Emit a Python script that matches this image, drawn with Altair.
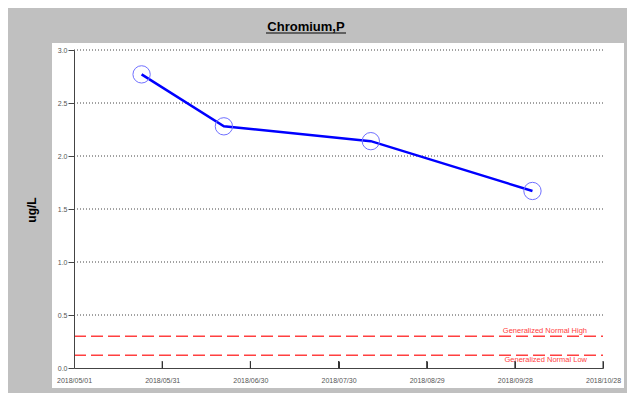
import altair as alt
import pandas as pd

# ---- data ----
dates = ["2018-05-24", "2018-06-21", "2018-08-10", "2018-10-04"]
values = [2.77, 2.28, 2.14, 1.67]

x_ticks = ["2018-05-01", "2018-05-31", "2018-06-30", "2018-07-30",
           "2018-08-29", "2018-09-28", "2018-10-28"]
y_ticks = [0.0, 0.5, 1.0, 1.5, 2.0, 2.5, 3.0]
grid_values = [0.5, 1.0, 1.5, 2.0, 2.5, 3.0]

limit_names = ["Generalized Normal High", "Generalized Normal Low"]
limit_values = [0.30, 0.12]

title_text = "Chromium,P"
y_title = "ug/L"

W, H = 529, 318
FONT = "Liberation Sans"


def ms(d):
    return int(pd.Timestamp(d, tz="UTC").timestamp() * 1000)


x_tick_ms = [ms(d) for d in x_ticks]

x_scale = alt.Scale(type="utc", domain=[x_tick_ms[0], x_tick_ms[-1]], nice=False)
y_scale = alt.Scale(domain=[0, 3], nice=False, zero=False)

x_axis = alt.Axis(values=x_tick_ms, format="%Y/%m/%d", ticks=False, labelFontSize=7,
                  labelColor="#555555", labelPadding=8, grid=False, title=None,
                  domainColor="#444444", labelFont=FONT, zindex=1, labelFlush=False,
                  labelOverlap=False)
# inward date ticks: a top-oriented axis moved down onto the x-axis line
x_tick_axis = alt.Axis(orient="top", offset=-H, values=x_tick_ms[1:], labels=False,
                       domain=False, ticks=True, tickSize=7, tickColor="#333333",
                       tickWidth=1, grid=False, title=None, zindex=1)
y_axis = alt.Axis(values=y_ticks, format=".1f", tickSize=6, labelFontSize=7,
                  labelColor="#555555", labelPadding=1, grid=False, title=None,
                  domainColor="#444444", tickColor="#444444", labelFont=FONT, zindex=1)

df = pd.DataFrame({"date": dates, "value": values})
grid_df = pd.DataFrame({"v": grid_values})
lim_df = pd.DataFrame({"name": limit_names, "v": limit_values})
xt_df = pd.DataFrame({"d": x_ticks[1:]})
one = alt.Data(values=[{}])

panel = alt.Chart(one).mark_rect(color="white").encode(
    x=alt.value(-22), x2=alt.value(550), y=alt.value(-7), y2=alt.value(338)
)

grid = alt.Chart(grid_df).mark_rule(color="#444444", strokeDash=[1, 2], strokeWidth=1).encode(
    y=alt.Y("v:Q", scale=y_scale, axis=y_axis), x=alt.value(0), x2=alt.value(W)
)

limits = alt.Chart(lim_df).mark_rule(color="#ff4040", strokeDash=[12, 5], strokeWidth=1.5).encode(
    y=alt.Y("v:Q", scale=y_scale, axis=y_axis), x=alt.value(0), x2=alt.value(W)
)

hi_label = alt.Chart(lim_df.iloc[[0]]).mark_text(
    align="right", baseline="middle", fontSize=7.5, color="#ff4040", font=FONT, dy=-5
).encode(y=alt.Y("v:Q", scale=y_scale, axis=y_axis), x=alt.value(513), text="name:N")

lo_label = alt.Chart(lim_df.iloc[[1]]).mark_text(
    align="right", baseline="middle", fontSize=7.5, color="#ff4040", font=FONT, dy=5
).encode(y=alt.Y("v:Q", scale=y_scale, axis=y_axis), x=alt.value(513), text="name:N")

line = alt.Chart(df).mark_line(color="#0000ff", strokeWidth=2.5).encode(
    x=alt.X("date:T", scale=x_scale, axis=x_axis),
    y=alt.Y("value:Q", scale=y_scale, axis=y_axis),
)

points = alt.Chart(df).mark_point(shape="circle", size=300, filled=False,
                                  color="#7070ff", strokeWidth=1, opacity=1).encode(
    x=alt.X("date:T", scale=x_scale, axis=None),
    y=alt.Y("value:Q", scale=y_scale, axis=y_axis),
)

xticks = alt.Chart(xt_df).mark_rule(color="#333333", strokeWidth=1).encode(
    x=alt.X("d:T", scale=x_scale, axis=x_tick_axis),
    y=alt.value(H - 7), y2=alt.value(H),
)

title = alt.Chart(one).mark_text(
    text=title_text, fontSize=13, fontWeight="bold", font=FONT, color="black",
    align="center", baseline="alphabetic"
).encode(x=alt.value(232), y=alt.value(-19))

underline = alt.Chart(one).mark_rule(color="black", strokeWidth=1).encode(
    x=alt.value(192), x2=alt.value(272), y=alt.value(-17)
)

ytitle = alt.Chart(one).mark_text(
    text=y_title, fontSize=12, fontWeight="bold", font=FONT, color="black",
    angle=270, align="center", baseline="middle"
).encode(x=alt.value(-42), y=alt.value(160))

chart = alt.layer(
    panel, grid, limits, hi_label, lo_label, line, points, xticks, title, underline, ytitle
).resolve_axis(x="independent").properties(
    width=W, height=H,
    autosize=alt.AutoSizeParams(type="none"),
    padding={"left": 66, "top": 42, "right": 24, "bottom": 25},
    background="#c0c0c0",
).configure_view(stroke=None)

chart.save("out.html", embed_options={"renderer": "svg", "actions": False})
